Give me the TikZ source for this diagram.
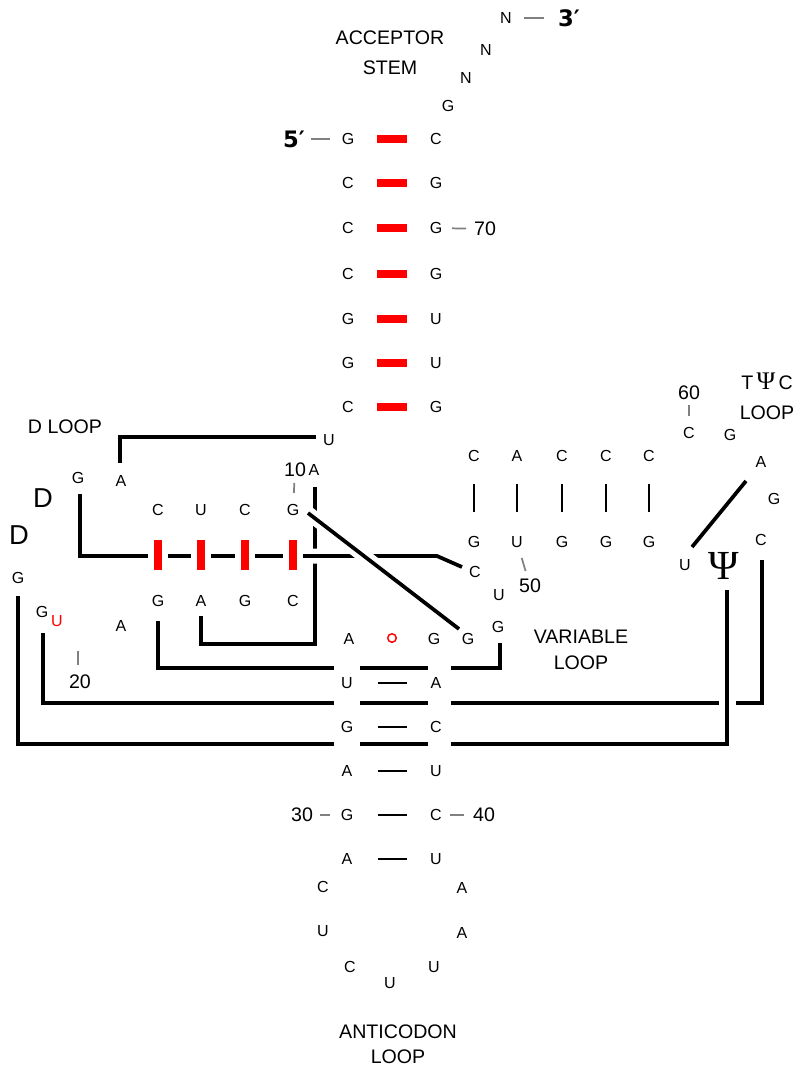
\documentclass[tikz,border=0pt]{standalone}
\usepackage{fontspec}
\setmainfont{Liberation Sans}
\newfontfamily\primefont{DejaVu Sans}
\newfontfamily\psifont{Liberation Serif}
\usetikzlibrary{calc}
\definecolor{stemred}{HTML}{FF0000}
\definecolor{tickgray}{HTML}{808080}

\begin{document}
\begin{tikzpicture}[
  x=0.75pt, y=-0.75pt,
  nt/.style={inner sep=0pt, font=\fontsize{12}{14}\selectfont},
  lbl/.style={inner sep=0pt, align=center, font=\fontsize{14.7}{22.5}\selectfont},
  num/.style={inner sep=0pt, font=\fontsize{14.7}{17}\selectfont},
  strandend/.style={inner sep=0pt, font=\primefont\bfseries\fontsize{17}{20}\selectfont},
  bigd/.style={inner sep=0pt, font=\fontsize{20.5}{23}\selectfont},
  bigpsi/.style={inner sep=0pt, font=\psifont\fontsize{31}{33}\selectfont},
  modnt/.style={circle, draw=stemred, line width=1.1pt, minimum size=6.4pt, inner sep=0pt},
  bond/.style={line width=2.8pt},
  halo/.style={preaction={draw=white, line width=#1}},
  accpair/.style={draw=stemred, line width=5.8pt, shorten <=21.75pt, shorten >=21.75pt},
  dpair/.style={draw=white, double=stemred, double distance=6pt, line width=4.5pt,
    shorten <=22.5pt, shorten >=23.25pt},
  tpair/.style={line width=1.5pt, shorten <=21pt, shorten >=22.5pt},
  apair/.style={line width=1.5pt, shorten <=23.25pt, shorten >=21.75pt},
  tick/.style={draw=tickgray, line width=1.3pt}
]
\useasboundingbox (0,0) rectangle (798,1067);

% acceptor stem, 5' strand
\node[nt] (n1) at (348,139) {G};
\node[nt] (n2) at (348,183) {C};
\node[nt] (n3) at (348,228) {C};
\node[nt] (n4) at (348,274) {C};
\node[nt] (n5) at (348,319) {G};
\node[nt] (n6) at (348,363) {G};
\node[nt] (n7) at (348,407) {C};
\node[nt] (n8) at (329,440) {U};
\node[nt] (n9) at (314,470) {A};
% D arm
\node[nt] (n10) at (293,510) {G};
\node[nt] (n11) at (245,510) {C};
\node[nt] (n12) at (201,510) {U};
\node[nt] (n13) at (158,510) {C};
\node[nt] (n14) at (121,481) {A};
\node[nt] (n15) at (78,478) {G};
\node[bigd] (n16) at (43,498) {D};
\node[bigd] (n17) at (19,535) {D};
\node[nt] (n18) at (18,578) {G};
\node[nt] (n19) at (42,612) {G};
\node[nt, text=stemred] (n20) at (57,621) {U};
\node[nt] (n21) at (121,626) {A};
\node[nt] (n22) at (158,601) {G};
\node[nt] (n23) at (201,601) {A};
\node[nt] (n24) at (245,601) {G};
\node[nt] (n25) at (293,601) {C};
\node[nt] (n26) at (349,639) {A};
% anticodon arm
\node[nt] (n27) at (347,683) {U};
\node[nt] (n28) at (347,727) {G};
\node[nt] (n29) at (347,771) {A};
\node[nt] (n30) at (347,815) {G};
\node[nt] (n31) at (347,859) {A};
\node[nt] (n32) at (323,887) {C};
\node[nt] (n33) at (323,931) {U};
\node[nt] (n34) at (350,967) {C};
\node[nt] (n35) at (390,983) {U};
\node[nt] (n36) at (434,967) {U};
\node[nt] (n37) at (462,933) {A};
\node[nt] (n38) at (462,888) {A};
\node[nt] (n39) at (436,859) {U};
\node[nt] (n40) at (436,815) {C};
\node[nt] (n41) at (436,771) {U};
\node[nt] (n42) at (436,727) {C};
\node[nt] (n43) at (436,683) {A};
% variable loop
\node[modnt] (v0) at (392,638) {};
\node[nt] (n44) at (434,639) {G};
\node[nt] (n45) at (468,639) {G};
\node[nt] (n46) at (498,627) {G};
\node[nt] (n47) at (499,595) {U};
\node[nt] (n48) at (475,572) {C};
% T arm
\node[nt] (n49) at (474,542) {G};
\node[nt] (n50) at (517,542) {U};
\node[nt] (n51) at (562,542) {G};
\node[nt] (n52) at (606,542) {G};
\node[nt] (n53) at (649,542) {G};
\node[nt] (n54) at (685,565) {U};
\node[bigpsi] (n55) at (724,566) {Ψ};
\node[nt] (n56) at (761,540) {C};
\node[nt] (n57) at (774,499) {G};
\node[nt] (n58) at (761,462) {A};
\node[nt] (n59) at (730,435) {G};
\node[nt] (n60) at (689,433) {C};
\node[nt] (n61) at (649,456) {C};
\node[nt] (n62) at (606,456) {C};
\node[nt] (n63) at (562,456) {C};
\node[nt] (n64) at (517,456) {A};
\node[nt] (n65) at (474,456) {C};
% acceptor stem, 3' strand
\node[nt] (n66) at (436,407) {G};
\node[nt] (n67) at (436,363) {U};
\node[nt] (n68) at (436,319) {U};
\node[nt] (n69) at (436,274) {G};
\node[nt] (n70) at (436,228) {G};
\node[nt] (n71) at (436,183) {G};
\node[nt] (n72) at (436,139) {C};
\node[nt] (n73) at (448,106) {G};
\node[nt] (n74) at (466,78) {N};
\node[nt] (n75) at (486,50) {N};
\node[nt] (n76) at (506,18) {N};

% ends, numbers and loop names
\node[strandend] (p5) at (294,139) {5′};
\node[strandend] (p3) at (569,18) {3′};
\node[num] (l10) at (295,470) {10};
\node[num] (l20) at (80,682) {20};
\node[num] (l30) at (302,815) {30};
\node[num] (l40) at (484,815) {40};
\node[num] (l50) at (530,586) {50};
\node[num] (l60) at (689,393) {60};
\node[num] (l70) at (485,229) {70};
\node[lbl] (accstem) at (390,53) {ACCEPTOR\\STEM};
\node[lbl] (dloop) at (65,427) {D LOOP};
\node[lbl] (tloop) at (767,396) {T\,{\psifont\fontsize{19}{20}\selectfont Ψ}\,C\\LOOP};
\node[lbl, font=\fontsize{14.7}{19.5}\selectfont] (varloop) at (581,650) {VARIABLE\\LOOP};
\node[lbl, font=\fontsize{14.7}{18.75}\selectfont] (acloop) at (398,1044) {ANTICODON\\LOOP};

% tertiary contacts
\draw[bond] ($(n14)+(-1,-18)$) |- ($(n8)+(-13,-3)$);
\draw[bond] ($(n9)+(1,17)$) |- ($(n23)+(0,43)$) -- ($(n23)+(0,15)$);
\draw[bond] ($(n22)+(0,20)$) |- ($(n27)+(-13,-15)$)
  ($(n27)+(13,-15)$) -- ($(n43)+(-8,-15)$)
  ($(n43)+(15,-15)$) -| ($(n46)+(2,16)$);
\draw[bond] ($(n19)+(1,21)$) |- ($(n27)+(-13,20)$)
  ($(n27)+(13,20)$) -- ($(n43)+(-8,20)$)
  ($(n43)+(15,20)$) -| ($(n56)+(1,20)$);
\draw[bond, halo=11.25pt] ($(n15)+(2,16)$) |- ($(n48)+(-38,-16)$) -- ($(n48)+(-13,-5)$);
\draw[bond, halo=10.5pt] ($(n10)+(15,3)$) -- ($(n45)+(-9,-10)$);
\draw[bond, halo=12.75pt] ($(n18)+(0,18)$) |- ($(n28)+(-13,17)$)
  ($(n28)+(13,17)$) -- ($(n42)+(-8,17)$)
  ($(n42)+(15,17)$) -| ($(n55)+(3,24)$);
\draw[bond] ($(n54)+(7,-18)$) -- ($(n58)+(-15,19)$);

% base pairs
\draw[accpair] (n1.center) -- (n72.center);
\draw[accpair] (n2.center) -- (n71.center);
\draw[accpair] (n3.center) -- (n70.center);
\draw[accpair] (n4.center) -- (n69.center);
\draw[accpair] (n5.center) -- (n68.center);
\draw[accpair] (n6.center) -- (n67.center);
\draw[accpair] (n7.center) -- (n66.center);
\draw[dpair] (n13.center) -- (n22.center);
\draw[dpair] (n12.center) -- (n23.center);
\draw[dpair] (n11.center) -- (n24.center);
\draw[dpair] (n10.center) -- (n25.center);
\draw[tpair] (n65.center) -- (n49.center);
\draw[tpair] (n64.center) -- (n50.center);
\draw[tpair] (n63.center) -- (n51.center);
\draw[tpair] (n62.center) -- (n52.center);
\draw[tpair] (n61.center) -- (n53.center);
\draw[apair] (n27.center) -- (n43.center);
\draw[apair] (n28.center) -- (n42.center);
\draw[apair] (n29.center) -- (n41.center);
\draw[apair] (n30.center) -- (n40.center);
\draw[apair] (n31.center) -- (n39.center);

% number ticks
\draw[tick, shorten <=13pt, shorten >=13.5pt] (p5.center) -- (n1.center);
\draw[tick, shorten <=13.5pt, shorten >=18.5pt] (n76.center) -- (p3.center);
\draw[tick, shorten <=12pt, shorten >=14.25pt] (n70.center) -- (l70.center);
\draw[tick, shorten <=9.75pt, shorten >=12.75pt] (l10.center) -- (n10.center);
\draw[tick] (l20.center) ++(-2,-17) -- ++(0,-14);
\draw[tick, shorten <=12.5pt, shorten >=11.75pt] (n50.center) -- (l50.center);
\draw[tick, shorten <=9pt, shorten >=12.75pt] (l60.center) -- (n60.center);
\draw[tick, shorten <=13.5pt, shorten >=12.75pt] (l30.center) -- (n30.center);
\draw[tick, shorten <=10.5pt, shorten >=15pt] (n40.center) -- (l40.center);
\end{tikzpicture}
\end{document}
